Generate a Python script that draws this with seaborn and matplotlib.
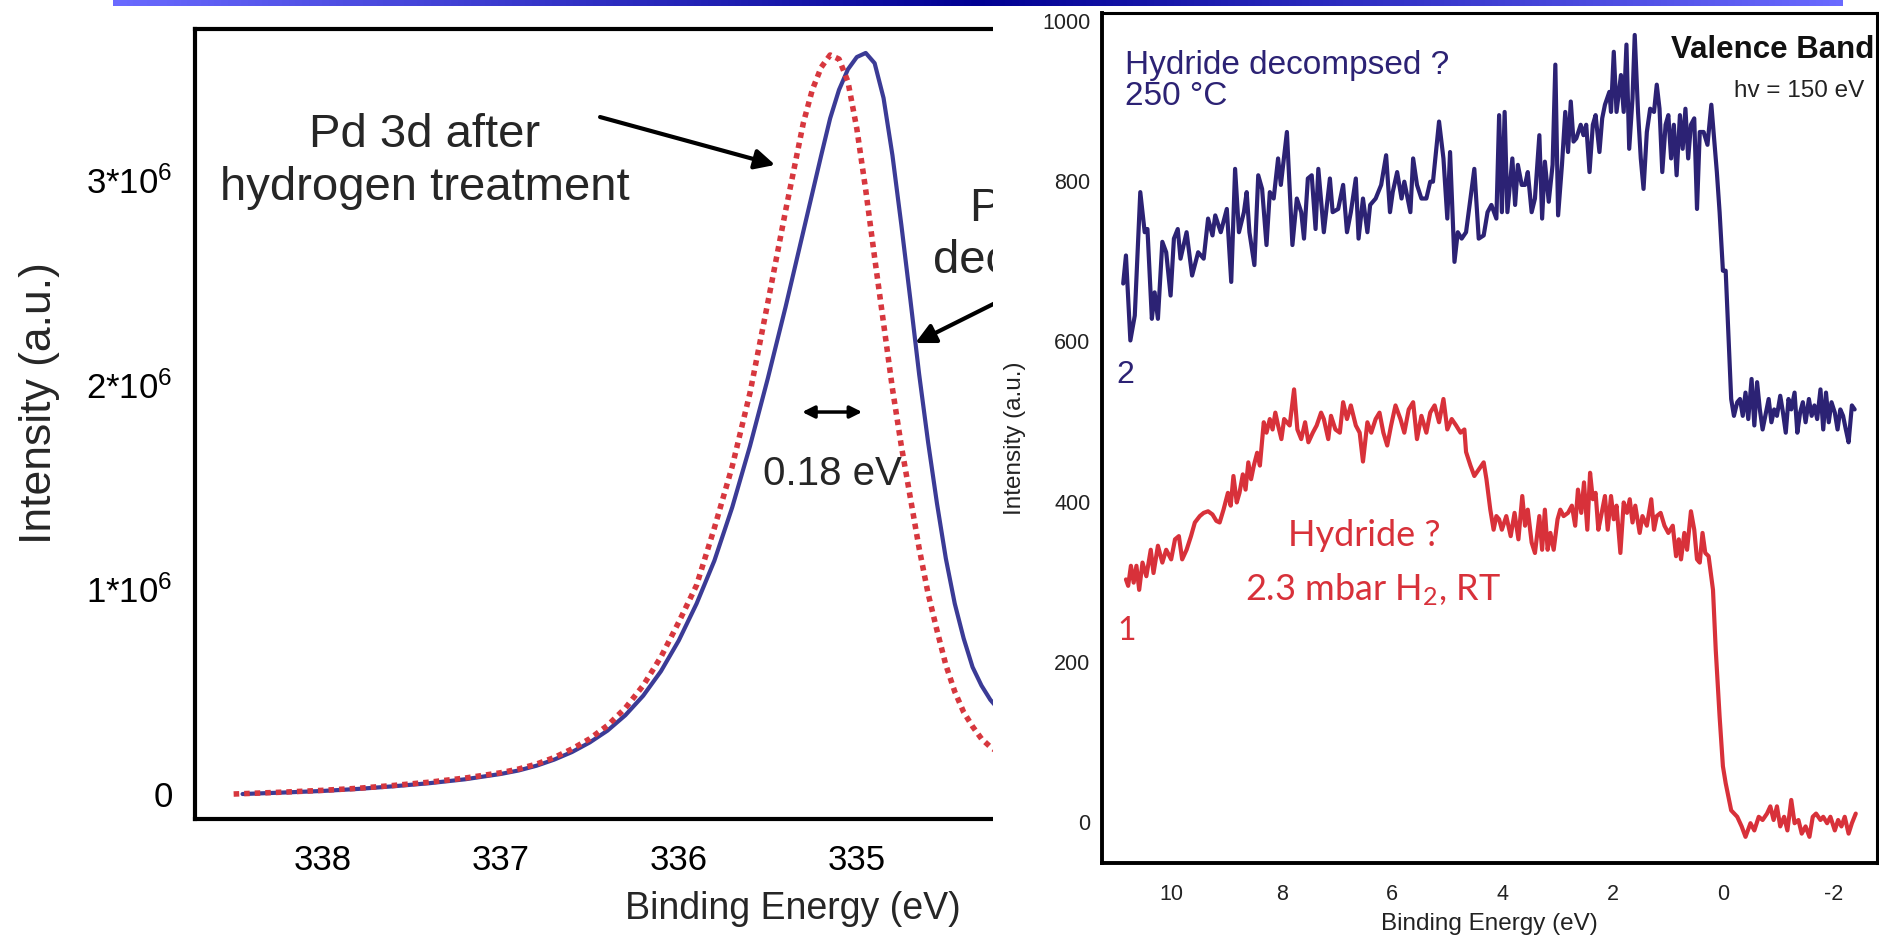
import numpy as np
import seaborn as sns
import matplotlib
matplotlib.use("Agg")
from matplotlib import pyplot as plt
from matplotlib.colors import LinearSegmentedColormap
from matplotlib.patches import Rectangle

# ---- Pd 3d core level (intensity in units of 10^6) ----
pd_be_decomposed = [338.45, 338.2, 338.0, 337.8, 337.6, 337.4, 337.2, 337.0, 336.9, 336.8,
                    336.7, 336.6, 336.5, 336.4, 336.3, 336.2, 336.1, 336.0, 335.9, 335.8,
                    335.7, 335.6, 335.5, 335.4, 335.3, 335.2, 335.15, 335.1, 335.05, 335.0,
                    334.95, 334.9, 334.85, 334.8, 334.75, 334.7, 334.65, 334.6, 334.55, 334.5,
                    334.45, 334.4, 334.35, 334.3, 334.25, 334.2, 334.15]
pd_int_decomposed = [0.0, 0.008, 0.015, 0.025, 0.038, 0.053, 0.072, 0.098, 0.115, 0.138,
                     0.168, 0.205, 0.252, 0.31, 0.385, 0.48, 0.60, 0.75, 0.93, 1.14,
                     1.40, 1.70, 2.03, 2.38, 2.75, 3.12, 3.30, 3.44, 3.54, 3.60,
                     3.62, 3.57, 3.40, 3.12, 2.78, 2.42, 2.05, 1.72, 1.42, 1.15,
                     0.93, 0.76, 0.62, 0.53, 0.46, 0.41, 0.37]

pd_be_hydrogen = [338.5, 338.2, 338.0, 337.8, 337.6, 337.4, 337.2, 337.0, 336.9, 336.8,
                  336.7, 336.6, 336.5, 336.4, 336.3, 336.2, 336.1, 336.0, 335.9, 335.8,
                  335.7, 335.6, 335.5, 335.4, 335.3, 335.25, 335.2, 335.15, 335.1, 335.05,
                  335.0, 334.95, 334.9, 334.85, 334.8, 334.75, 334.7, 334.65, 334.6, 334.55,
                  334.5, 334.45, 334.4, 334.35, 334.3, 334.25, 334.2, 334.15]
pd_int_hydrogen = [0.0, 0.01, 0.018, 0.028, 0.042, 0.058, 0.078, 0.104, 0.122, 0.146,
                   0.178, 0.22, 0.27, 0.335, 0.42, 0.53, 0.67, 0.84, 1.02, 1.30,
                   1.60, 1.96, 2.40, 2.85, 3.28, 3.44, 3.55, 3.61, 3.59, 3.48,
                   3.25, 2.95, 2.62, 2.30, 1.98, 1.70, 1.45, 1.20, 0.98, 0.80,
                   0.63, 0.50, 0.40, 0.33, 0.27, 0.23, 0.20, 0.18]

pd_xticks = [338, 337, 336, 335]
pd_yticks = [0, 1, 2, 3]
pd_yticklabels = ["0", "1*10$^6$", "2*10$^6$", "3*10$^6$"]

# ---- valence band, hv = 150 eV ----
vb_be_250c = [10.88, 10.83, 10.75, 10.67, 10.57, 10.49, 10.44, 10.36, 10.31, 10.25,
              10.17, 10.10, 10.02, 9.96, 9.89, 9.84, 9.73, 9.63, 9.52, 9.42,
              9.34, 9.26, 9.21, 9.11, 9.00, 8.92, 8.85, 8.78, 8.69, 8.64,
              8.59, 8.50, 8.43, 8.36, 8.28, 8.22, 8.15, 8.07, 8.02, 7.91,
              7.81, 7.73, 7.65, 7.60, 7.53, 7.46, 7.39, 7.34, 7.24, 7.13,
              7.08, 6.98, 6.89, 6.82, 6.75, 6.66, 6.61, 6.53, 6.45, 6.40,
              6.30, 6.20, 6.11, 6.04, 5.99, 5.91, 5.83, 5.78, 5.67, 5.62,
              5.55, 5.47, 5.38, 5.31, 5.26, 5.15, 5.07, 5.00, 4.95, 4.87,
              4.81, 4.74, 4.66, 4.58, 4.51, 4.43, 4.34, 4.27, 4.20, 4.11,
              4.06, 4.01, 3.96, 3.91, 3.82, 3.77, 3.72, 3.65, 3.59, 3.54,
              3.47, 3.41, 3.33, 3.28, 3.23, 3.16, 3.09, 3.04, 2.99, 2.92,
              2.86, 2.81, 2.76, 2.71, 2.66, 2.58, 2.53, 2.48, 2.42, 2.36,
              2.31, 2.24, 2.19, 2.14, 2.06, 2.03, 1.98, 1.93, 1.85, 1.80,
              1.75, 1.70, 1.64, 1.60, 1.54, 1.49, 1.44, 1.38, 1.32, 1.25,
              1.20, 1.15, 1.10, 1.04, 0.99, 0.94, 0.89, 0.84, 0.78, 0.73,
              0.68, 0.63, 0.58, 0.52, 0.47, 0.42, 0.35, 0.28, 0.21, 0.16,
              0.11, 0.06, 0.00, -0.05, -0.15, -0.20, -0.26, -0.31, -0.36, -0.41,
              -0.46, -0.52, -0.57, -0.62, -0.67, -0.72, -0.78, -0.83, -0.88, -0.93,
              -0.98, -1.04, -1.09, -1.14, -1.19, -1.24, -1.30, -1.35, -1.40, -1.45,
              -1.50, -1.56, -1.61, -1.66, -1.71, -1.77, -1.82, -1.87, -1.92, -1.97,
              -2.03, -2.08, -2.13, -2.18, -2.23, -2.28, -2.34, -2.39]
vb_int_250c = [672, 707, 601, 632, 786, 736, 740, 628, 661, 628,
               724, 711, 657, 728, 740, 703, 736, 682, 711, 703,
               753, 732, 757, 736, 765, 674, 815, 736, 761, 786,
               736, 695, 807, 790, 720, 786, 778, 828, 795, 861,
               720, 778, 761, 728, 803, 807, 740, 815, 736, 803,
               761, 765, 795, 736, 761, 803, 728, 778, 736, 770,
               778, 795, 832, 761, 786, 811, 778, 799, 761, 828,
               795, 778, 778, 799, 799, 874, 828, 753, 836, 699,
               736, 728, 736, 778, 815, 728, 732, 761, 770, 753,
               882, 761, 886, 761, 828, 770, 820, 795, 795, 811,
               761, 778, 857, 753, 824, 774, 820, 945, 757, 820,
               886, 836, 899, 849, 853, 870, 857, 870, 811, 870,
               882, 836, 878, 895, 911, 886, 961, 886, 932, 886,
               970, 840, 903, 982, 886, 828, 790, 861, 890, 886,
               920, 890, 811, 870, 882, 828, 870, 807, 882, 840,
               890, 828, 870, 878, 765, 861, 861, 845, 895, 853,
               811, 761, 688, 688, 528, 507, 524, 528, 507, 536,
               503, 553, 495, 549, 515, 490, 511, 528, 499, 515,
               507, 532, 511, 486, 528, 515, 536, 486, 511, 524,
               499, 528, 507, 520, 503, 540, 490, 536, 499, 524,
               511, 490, 515, 507, 490, 474, 520, 515]

vb_be_rt = [10.83, 10.79, 10.74, 10.69, 10.64, 10.59, 10.53, 10.46, 10.38, 10.33,
            10.25, 10.17, 10.10, 10.01, 9.94, 9.87, 9.81, 9.73, 9.65, 9.58,
            9.49, 9.42, 9.34, 9.26, 9.19, 9.13, 9.06, 8.98, 8.93, 8.88,
            8.82, 8.77, 8.71, 8.66, 8.61, 8.56, 8.51, 8.45, 8.40, 8.33,
            8.28, 8.22, 8.17, 8.12, 8.07, 8.01, 7.96, 7.86, 7.78, 7.72,
            7.65, 7.58, 7.52, 7.44, 7.37, 7.29, 7.24, 7.16, 7.11, 7.03,
            6.95, 6.89, 6.82, 6.75, 6.66, 6.59, 6.53, 6.45, 6.38, 6.30,
            6.23, 6.16, 6.09, 6.02, 5.94, 5.85, 5.78, 5.70, 5.62, 5.55,
            5.47, 5.38, 5.31, 5.23, 5.15, 5.07, 5.00, 4.92, 4.84, 4.76,
            4.69, 4.66, 4.58, 4.51, 4.43, 4.34, 4.29, 4.22, 4.16, 4.11,
            4.06, 4.01, 3.93, 3.85, 3.78, 3.71, 3.64, 3.59, 3.54, 3.47,
            3.41, 3.33, 3.28, 3.23, 3.18, 3.13, 3.07, 3.00, 2.95, 2.89,
            2.81, 2.74, 2.68, 2.63, 2.57, 2.52, 2.46, 2.41, 2.36, 2.31,
            2.26, 2.21, 2.14, 2.09, 2.03, 1.98, 1.93, 1.86, 1.80, 1.74,
            1.69, 1.64, 1.59, 1.51, 1.46, 1.38, 1.30, 1.25, 1.20, 1.13,
            1.06, 0.99, 0.91, 0.85, 0.80, 0.76, 0.70, 0.65, 0.58, 0.52,
            0.47, 0.42, 0.37, 0.32, 0.26, 0.18, 0.13, 0.06, 0.00, -0.05,
            -0.15, -0.26, -0.34, -0.41, -0.50, -0.57, -0.65, -0.72, -0.80, -0.86,
            -0.92, -0.98, -1.04, -1.11, -1.17, -1.24, -1.30, -1.37, -1.43, -1.50,
            -1.57, -1.63, -1.69, -1.77, -1.82, -1.89, -1.95, -2.03, -2.09, -2.15,
            -2.21, -2.28, -2.34, -2.41]
vb_int_rt = [303, 295, 320, 299, 320, 290, 324, 307, 340, 311,
             345, 324, 340, 328, 353, 357, 328, 340, 357, 374,
             382, 386, 388, 384, 376, 374, 390, 411, 395, 432,
             399, 411, 434, 415, 449, 428, 445, 461, 445, 499,
             486, 503, 490, 511, 495, 478, 503, 495, 540, 490,
             478, 499, 474, 486, 495, 511, 503, 478, 507, 490,
             486, 524, 503, 520, 495, 486, 450, 499, 486, 503,
             511, 486, 470, 495, 520, 503, 486, 515, 524, 478,
             507, 486, 511, 520, 499, 528, 490, 503, 495, 486,
             490, 462, 445, 432, 440, 449, 428, 390, 365, 382,
             378, 365, 382, 357, 386, 353, 407, 370, 390, 349,
             336, 382, 340, 390, 340, 361, 340, 378, 390, 382,
             386, 395, 370, 415, 386, 424, 365, 436, 403, 411,
             365, 382, 407, 365, 407, 378, 395, 336, 399, 386,
             403, 374, 395, 361, 382, 370, 403, 365, 382, 386,
             370, 361, 370, 332, 353, 328, 361, 340, 388, 365,
             328, 324, 361, 336, 332, 290, 215, 132, 70, 49,
             15, 7, -5, -18, -1, -10, 7, 3, 11, 20,
             3, 20, -5, 7, -10, 28, -1, 3, -14, -5,
             -18, 7, 11, 3, 7, -1, 7, -10, 3, -5,
             7, -14, -1, 11]

vb_xticks = [10, 8, 6, 4, 2, 0, -2]
vb_yticks = [0, 200, 400, 600, 800, 1000]

NAVY_PD = "#3b3b96"
RED_PD = "#d7373e"
NAVY_VB = "#2c2274"
RED_VB = "#d8313a"

sns.set_theme(style="white")
plt.rcParams["font.family"] = ["Liberation Sans", "DejaVu Sans"]
plt.rcParams["mathtext.fontset"] = "custom"
plt.rcParams["mathtext.rm"] = "Liberation Sans"
plt.rcParams["mathtext.it"] = "Liberation Sans:italic"
plt.rcParams["mathtext.bf"] = "Liberation Sans:bold"
plt.rcParams["mathtext.default"] = "regular"
plt.rcParams["axes.unicode_minus"] = False

W, H = 1879, 936
fig = plt.figure(figsize=(W / 100, H / 100), dpi=100)
fig.patch.set_facecolor("white")


def px_box(x0, y0, x1, y1):
    # pixel box, origin top-left -> figure fraction
    return [x0 / W, 1 - y1 / H, (x1 - x0) / W, (y1 - y0) / H]


# ---- left panel: Pd 3d ----
ax1 = fig.add_axes(px_box(195, 29, 1391, 819), zorder=0)
sns.lineplot(x=pd_be_decomposed, y=pd_int_decomposed, ax=ax1, color=NAVY_PD,
             lw=3.0, sort=False, estimator=None)
sns.lineplot(x=pd_be_hydrogen, y=pd_int_hydrogen, ax=ax1, color=RED_PD,
             lw=4.0, linestyle=(0, (1.0, 0.9)), dash_capstyle="butt",
             sort=False, estimator=None)
ax1.set_xlim(338.717, 332.0)
ax1.set_ylim(-0.122, 3.737)
ax1.set_xticks(pd_xticks)
ax1.set_yticks(pd_yticks, pd_yticklabels)
ax1.tick_params(axis="x", direction="in", length=12, width=1.2, color="#666666",
                labelsize=25, pad=18, labelcolor="black")
ax1.tick_params(axis="y", direction="in", length=9.5, width=1.2, color="#666666",
                labelsize=25, pad=16, labelcolor="black")
for side in ["left", "bottom", "top"]:
    ax1.spines[side].set_color("black")
    ax1.spines[side].set_linewidth(3)
ax1.spines["right"].set_visible(False)
ax1.set_xlabel("Binding Energy (eV)", fontsize=27, labelpad=10)
ax1.set_ylabel("Intensity (a.u.)", fontsize=32)
ax1.yaxis.set_label_coords(-0.113, 0.527)

ax1.text(337.425, 3.09, "Pd 3d after\nhydrogen treatment", fontsize=34,
         ha="center", va="center", linespacing=1.25)
ax1.text(333.717, 2.73, "Pd 3d after\ndecomposition", fontsize=34,
         ha="center", va="center", linespacing=1.25)
ax1.text(335.138, 1.563, "0.18 eV", fontsize=29, ha="center", va="center")
arrow = dict(arrowstyle="-|>", color="black", lw=3, mutation_scale=30,
             shrinkA=0, shrinkB=0)
ax1.annotate("", xy=(335.459, 3.073), xytext=(336.442, 3.307), arrowprops=arrow)
ax1.annotate("", xy=(334.672, 2.203), xytext=(333.998, 2.496), arrowprops=arrow)
ax1.annotate("", xy=(334.97, 1.866), xytext=(335.307, 1.866),
             arrowprops=dict(arrowstyle="<|-|>", color="black", lw=2.5,
                             mutation_scale=18, shrinkA=0, shrinkB=0))

# white area behind the second panel hides the rest of the first
fig.add_artist(Rectangle((993 / W, 0), 1 - 993 / W, 1, transform=fig.transFigure,
                         facecolor="white", edgecolor="none", zorder=1))

# ---- right panel: valence band ----
ax2 = fig.add_axes(px_box(1101.7, 13.3, 1876.7, 863.3), zorder=2)
ax2.set_facecolor("white")
sns.lineplot(x=vb_be_250c, y=vb_int_250c, ax=ax2, color=NAVY_VB, lw=3.0,
             sort=False, estimator=None)
sns.lineplot(x=vb_be_rt, y=vb_int_rt, ax=ax2, color=RED_VB, lw=3.0,
             sort=False, estimator=None)
ax2.set_xlim(11.27, -2.79)
ax2.set_ylim(-51, 1009)
ax2.set_xticks(vb_xticks)
ax2.set_yticks(vb_yticks)
ax2.tick_params(axis="x", direction="in", length=8, width=1, color="#888888",
                labelsize=15.5, pad=15, labelcolor="#222222")
ax2.tick_params(axis="y", direction="in", length=8, width=1, color="#888888",
                labelsize=15.5, pad=8, labelcolor="#222222")
for side in ["left", "bottom"]:
    ax2.spines[side].set_color("black")
    ax2.spines[side].set_linewidth(2.8)
for side in ["top", "right"]:
    ax2.spines[side].set_color("black")
    ax2.spines[side].set_linewidth(2.2)
ax2.set_xlabel("Binding Energy (eV)", fontsize=17.5, labelpad=6, color="#222222")
ax2.set_ylabel("Intensity (a.u.)", fontsize=17.5, labelpad=12, color="#222222")

ax2.text(10.85, 925, "Hydride decompsed ?\n250 °C", color=NAVY_VB, fontsize=24,
         ha="left", va="center", linespacing=1.0)
ax2.text(-2.74, 963, "Valence Band", fontweight="bold", fontsize=22.5,
         ha="right", va="center", color="#111111")
ax2.text(-2.57, 912, "hv = 150 eV", fontsize=17.5, ha="right", va="center",
         color="#222222")
ax2.text(10.85, 558, "2", color=NAVY_VB, fontsize=23, ha="center", va="center")
ax2.text(10.81, 239, "1", color=RED_VB, fontsize=23, ha="center", va="center",
         family=["Lato", "DejaVu Sans"])
ax2.text(6.5, 358, "Hydride ?", color=RED_VB, fontsize=26, ha="center",
         va="center", family=["Lato", "DejaVu Sans"])
ax2.text(6.35, 290, "2.3 mbar H$_2$, RT", color=RED_VB, fontsize=26,
         ha="center", va="center", family=["Lato", "DejaVu Sans"])

# ---- slide header bar ----
axh = fig.add_axes(px_box(113, 0, 1843, 6), zorder=3)
bar_cmap = LinearSegmentedColormap.from_list("bar", ["#6a6aff", "#000092", "#6a6aff"])
axh.imshow(np.linspace(0, 1, 512)[None, :], aspect="auto", cmap=bar_cmap)
axh.axis("off")

fig.savefig("out.png", dpi=100)
